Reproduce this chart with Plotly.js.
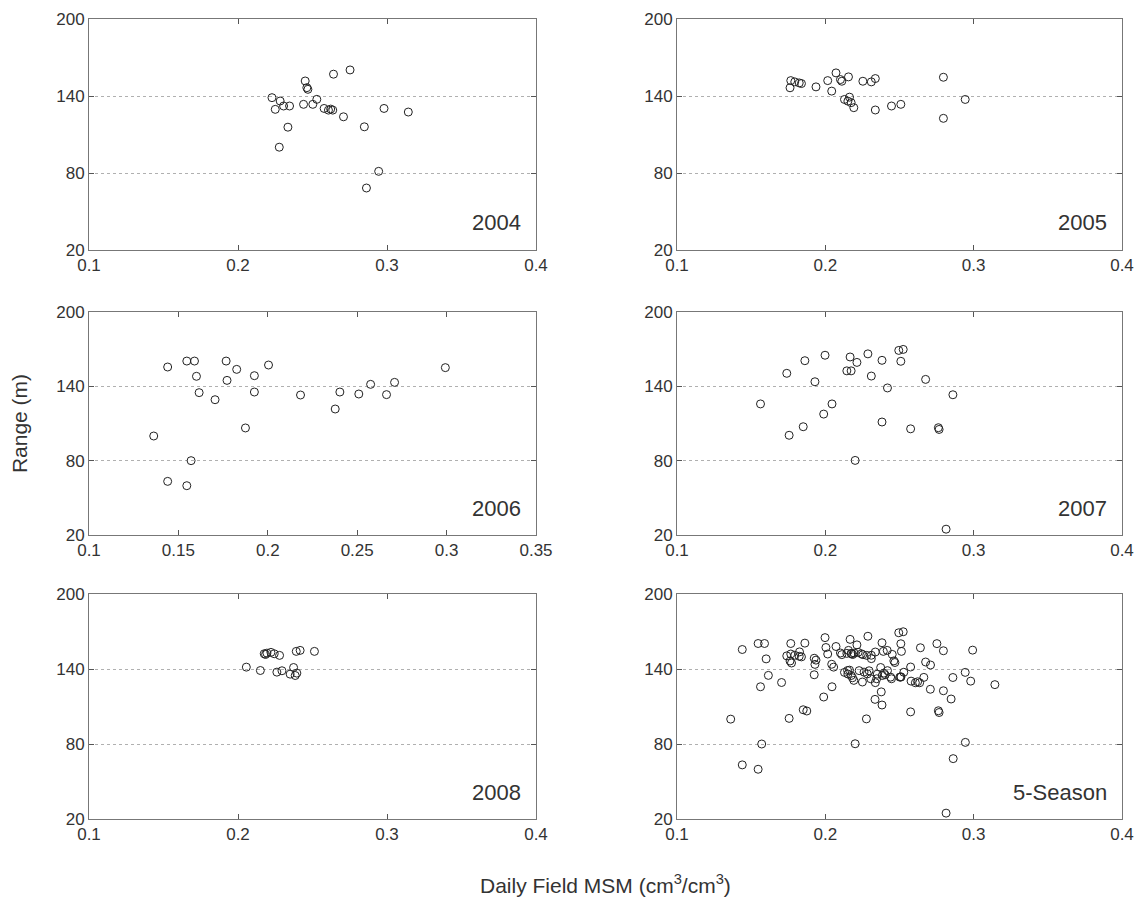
<!DOCTYPE html>
<html>
<head>
<meta charset="utf-8">
<script src="https://cdn.plot.ly/plotly-3.0.1.min.js"></script>
<style>html,body{margin:0;padding:0;background:#fff;}#chart{width:1143px;height:905px;}</style>
</head>
<body>
<div id="chart"></div>
<script>
// ---- data ----
const msm2004 = [0.2228,0.2250,0.2283,0.2306,0.2346,0.2335,0.2277,0.2451,0.2469,0.2462,0.2440,0.2502,0.2529,0.2578,0.2607,0.2636,0.2622,0.2641,0.2752,0.2708,0.2848,0.2980,0.3143,0.2944,0.2862];
const range2004 = [138.7,129.6,136.1,132.2,132.2,115.7,100.1,151.7,145.2,146.5,133.5,133.5,137.4,130.3,129.0,129.0,129.8,157.0,160.3,123.8,116.0,130.3,127.5,81.3,68.3];

const msm2005 = [0.1767,0.1762,0.1794,0.1824,0.1839,0.1937,0.2016,0.2043,0.2072,0.2102,0.2111,0.2156,0.2163,0.2129,0.2152,0.2174,0.2192,0.2253,0.2310,0.2337,0.2337,0.2446,0.2509,0.2796,0.2796,0.2943];
const range2005 = [152.0,146.4,151.0,150.2,149.7,147.1,152.0,143.8,158.0,152.8,151.5,154.9,139.1,137.3,136.0,134.8,130.9,151.5,151.0,153.6,129.1,132.2,133.5,154.6,122.6,137.3];

const msm2006 = [0.1440,0.1547,0.1590,0.1601,0.1616,0.1705,0.1767,0.1772,0.1826,0.1925,0.1925,0.2004,0.1875,0.1362,0.1571,0.1440,0.1547,0.2183,0.2377,0.2403,0.2509,0.2575,0.2664,0.2709,0.2993];
const range2006 = [155.6,160.4,160.4,148.1,134.9,129.2,160.4,144.8,153.7,148.6,135.4,157.2,106.4,99.9,80.0,63.3,59.8,133.0,121.7,135.4,133.8,141.6,133.3,143.2,155.1];

const msm2007 = [0.1563,0.1740,0.1756,0.1851,0.1862,0.1930,0.1998,0.1989,0.2045,0.2167,0.2213,0.2145,0.2174,0.2287,0.2310,0.2382,0.2419,0.2382,0.2201,0.2495,0.2525,0.2509,0.2575,0.2676,0.2762,0.2767,0.2860,0.2814];
const range2007 = [125.8,150.5,100.5,107.4,160.7,143.7,165.1,117.6,125.8,163.7,159.3,152.5,152.5,166.2,148.3,161.0,138.7,111.2,80.2,169.0,169.8,160.2,105.7,145.6,106.6,105.2,133.2,24.7];

const msm2008 = [0.2056,0.2150,0.2176,0.2194,0.2221,0.2243,0.2279,0.2261,0.2295,0.2373,0.2350,0.2384,0.2395,0.2391,0.2417,0.2513,0.2185];
const range2008 = [141.5,138.8,152.2,152.7,153.3,152.2,150.9,137.5,138.6,141.2,135.9,134.8,136.7,154.1,154.9,154.1,151.6];

const panelLabels = ["2004","2005","2006","2007","2008","5-Season"];
const yTicks = [20,80,140,200];
const xTicksMain = [0.1,0.2,0.3,0.4];
const xTicks2006 = [0.1,0.15,0.2,0.25,0.3,0.35];

// 5-Season = all seasons together
const msmAll = [].concat(msm2004,msm2005,msm2006,msm2007,msm2008);
const rangeAll = [].concat(range2004,range2005,range2006,range2007,range2008);

const seriesX = [msm2004,msm2005,msm2006,msm2007,msm2008,msmAll];
const seriesY = [range2004,range2005,range2006,range2007,range2008,rangeAll];

// ---- layout ----
const W = 1143, H = 905;
const colX = [[89/W,536/W],[677/W,1122/W]];
const rowY = [[1-250/H,1-19/H],[1-535/H,1-312/H],[1-819/H,1-594/H]];

const font = {family:"Liberation Sans, Arial, sans-serif", color:"#333"};
const traces = [];
const layout = {
  width:W, height:H, margin:{l:0,r:0,t:0,b:0},
  paper_bgcolor:"#fff", plot_bgcolor:"#fff",
  showlegend:false, font:Object.assign({size:17},font),
  annotations:[]
};

for (let i=0;i<6;i++){
  const n = i+1;
  const xa = n===1?"x":"x"+n, ya = n===1?"y":"y"+n;
  const xk = n===1?"xaxis":"xaxis"+n, yk = n===1?"yaxis":"yaxis"+n;
  const col = i%2, row = Math.floor(i/2);
  traces.push({
    type:"scatter", mode:"markers", x:seriesX[i], y:seriesY[i], xaxis:xa, yaxis:ya,
    marker:{symbol:"circle-open", size:8, color:"#222", line:{width:1,color:"#222"}},
    hoverinfo:"x+y"
  });
  const is2006 = (i===2);
  layout[xk] = {
    domain:colX[col], anchor:ya,
    range: is2006?[0.1,0.35]:[0.1,0.4],
    tickvals: is2006?xTicks2006:xTicksMain,
    ticktext: (is2006?xTicks2006:xTicksMain).map(v=>String(v)),
    ticks:"inside", ticklen:5, tickcolor:"#555",
    showline:true, linecolor:"#777", linewidth:1, mirror:"ticks",
    showgrid:false, zeroline:false,
    tickfont:{size:17,color:"#333",family:font.family}
  };
  layout[yk] = {
    domain:rowY[row], anchor:xa,
    range:[20,200], tickvals:yTicks, ticktext:yTicks.map(String),
    ticks:"inside", ticklen:5, tickcolor:"#555",
    showline:true, linecolor:"#777", linewidth:1, mirror:"ticks",
    showgrid:true, gridcolor:"#b0b0b0", griddash:"dot", gridwidth:1,
    zeroline:false,
    tickfont:{size:17,color:"#333",family:font.family}
  };
  layout.annotations.push({
    xref:xa+" domain", yref:ya+" domain", x:0.97, y:0.12,
    xanchor:"right", yanchor:"middle", showarrow:false,
    text:panelLabels[i], font:{size:22,color:"#333",family:font.family}
  });
}
layout.yaxis3.title = {text:"Range (m)", font:{size:21,color:"#333",family:font.family}, standoff:22};

layout.annotations.push({
  xref:"paper", yref:"paper", x:605/W, y:1-884/H, xanchor:"center", yanchor:"middle",
  showarrow:false, text:"Daily Field MSM (cm<sup>3</sup>/cm<sup>3</sup>)",
  font:{size:21,color:"#333",family:font.family}
});

Plotly.newPlot("chart", traces, layout, {displayModeBar:false, staticPlot:true});
</script>
</body>
</html>
